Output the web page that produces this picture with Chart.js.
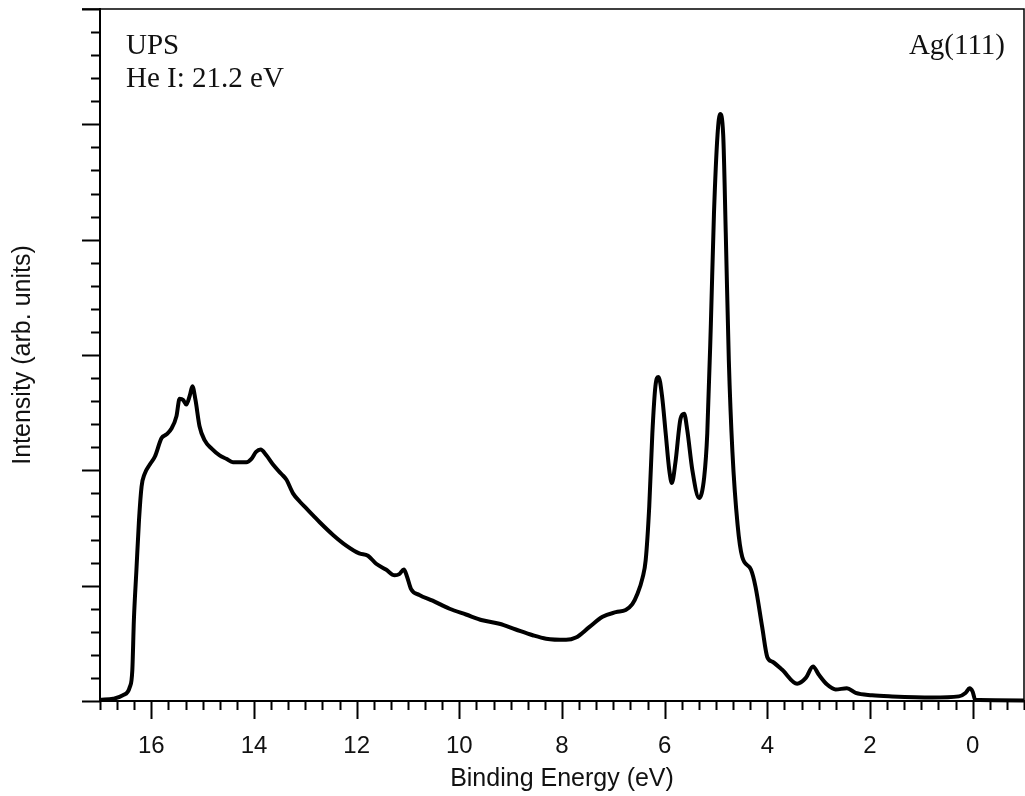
<!DOCTYPE html>
<html>
<head>
<meta charset="utf-8">
<script src="https://cdn.jsdelivr.net/npm/chart.js@4.4.1/dist/chart.umd.min.js"></script>
<style>
  html, body { margin: 0; padding: 0; background: #fff; }
  #wrap { width: 1025px; height: 796px; position: relative; }
</style>
</head>
<body>
<div id="wrap"><canvas id="upsChart"></canvas></div>
<script>
// ===== Spectrum data =====
const bindingEnergy = [
  17.0, 16.74, 16.55, 16.42, 16.37, 16.34, 16.29, 16.24, 16.19, 16.13, 16.03, 15.93, 15.80, 15.71, 15.61,
  15.51, 15.45, 15.38, 15.32, 15.25, 15.20, 15.14, 15.06, 14.96, 14.83, 14.67, 14.54, 14.41, 14.15, 14.05,
  13.96, 13.87, 13.76, 13.63, 13.47, 13.37, 13.24, 13.11, 12.98, 12.85, 12.72, 12.46, 12.21, 11.95, 11.78,
  11.62, 11.43, 11.26, 11.17, 11.08, 11.02, 10.94, 10.78, 10.52, 10.19, 9.87, 9.55, 9.22, 8.90, 8.57,
  8.31, 7.92, 7.73, 7.47, 7.21, 6.95, 6.76, 6.63, 6.53, 6.43, 6.37, 6.30, 6.24, 6.18, 6.12,
  6.05, 5.98, 5.91, 5.86, 5.79, 5.69, 5.62, 5.56, 5.46, 5.33, 5.23, 5.17, 5.10, 5.04, 4.97,
  4.92, 4.86, 4.81, 4.75, 4.68, 4.58, 4.49, 4.32, 4.23, 4.10, 4.00, 3.90, 3.71, 3.42, 3.25,
  3.11, 3.00, 2.83, 2.67, 2.45, 2.28, 1.96, 1.57, 0.79, 0.27, 0.14, 0.06, 0.00, -0.05, -1.0
];
const intensity = [
  0.01, 0.02, 0.05, 0.12, 0.27, 0.70, 1.14, 1.57, 1.86, 1.97, 2.05, 2.12, 2.28, 2.31, 2.36,
  2.47, 2.62, 2.61, 2.57, 2.65, 2.73, 2.61, 2.38, 2.26, 2.19, 2.13, 2.10, 2.07, 2.07, 2.10,
  2.16, 2.18, 2.13, 2.05, 1.97, 1.92, 1.80, 1.73, 1.67, 1.61, 1.55, 1.44, 1.35, 1.28, 1.26,
  1.19, 1.14, 1.09, 1.10, 1.14, 1.08, 0.97, 0.92, 0.87, 0.80, 0.75, 0.70, 0.67, 0.62, 0.57,
  0.54, 0.53, 0.55, 0.64, 0.73, 0.77, 0.79, 0.84, 0.93, 1.07, 1.22, 1.69, 2.32, 2.73, 2.81,
  2.64, 2.32, 2.00, 1.89, 2.07, 2.45, 2.49, 2.35, 2.00, 1.76, 1.94, 2.32, 3.27, 4.22, 4.91,
  5.09, 4.91, 4.06, 2.95, 2.16, 1.53, 1.25, 1.14, 0.99, 0.64, 0.38, 0.34, 0.27, 0.15, 0.20,
  0.30, 0.23, 0.14, 0.10, 0.11, 0.07, 0.05, 0.04, 0.03, 0.04, 0.07, 0.11, 0.08, 0.01, 0.005
];

// ===== Axes =====
const xRange = [-1, 17];
const xTickLabels = [16, 14, 12, 10, 8, 6, 4, 2, 0];
const xMinorStep = 1 / 3;
const yRange = [0, 6];
const yMajorTicks = [0, 1, 2, 3, 4, 5, 6];
const yMinorStep = 0.2;

const sansFont = "'Liberation Sans', Arial, sans-serif";
const serifFont = "'Liberation Serif', 'Times New Roman', serif";

// ===== Frame, tick marks, tick labels and text annotations =====
const frameAndTicks = {
  id: 'frameAndTicks',
  afterDraw(chart) {
    const { ctx, chartArea: a, scales: { x, y } } = chart;
    ctx.save();
    ctx.strokeStyle = '#000';

    // top + right border
    ctx.lineWidth = 1.5;
    ctx.beginPath();
    ctx.moveTo(a.left - 18, a.top);
    ctx.lineTo(a.right, a.top);
    ctx.lineTo(a.right, a.bottom);
    ctx.stroke();

    // x ticks (below axis)
    ctx.lineWidth = 2;
    ctx.beginPath();
    for (let v = xRange[0]; v <= xRange[1] + 1e-6; v += xMinorStep) {
      const major = Math.abs(v - Math.round(v)) < 1e-6 && Math.round(v) % 2 === 0;
      const px = Math.round(x.getPixelForValue(v)) + 0.5;
      ctx.moveTo(px, a.bottom);
      ctx.lineTo(px, a.bottom + (major ? 18 : 9));
    }
    // y ticks (left of axis)
    for (let v = yRange[0]; v <= yRange[1] + 1e-6; v += yMinorStep) {
      const major = yMajorTicks.some(m => Math.abs(m - v) < 1e-6);
      const py = Math.round(y.getPixelForValue(v)) + 0.5;
      ctx.moveTo(a.left, py);
      ctx.lineTo(a.left - (major ? 18 : 9), py);
    }
    ctx.stroke();

    // x tick labels
    ctx.fillStyle = '#111';
    ctx.font = '24px ' + sansFont;
    ctx.textAlign = 'center';
    ctx.textBaseline = 'middle';
    xTickLabels.forEach(v => {
      ctx.fillText(String(v), x.getPixelForValue(v), a.bottom + 45);
    });

    // annotations
    ctx.font = '29px ' + serifFont;
    ctx.textBaseline = 'alphabetic';
    ctx.textAlign = 'left';
    ctx.fillText('UPS', a.left + 26, 54);
    ctx.fillText('He I: 21.2 eV', a.left + 26, 87);
    ctx.textAlign = 'right';
    ctx.fillText('Ag(111)', a.right - 19, 54);
    ctx.restore();
  }
};

function initUpsChart() {
  const ctx = document.getElementById('upsChart').getContext('2d');
  new Chart(ctx, {
    type: 'scatter',
    data: {
      datasets: [{
        data: bindingEnergy.map((e, i) => ({ x: e, y: intensity[i] })),
        showLine: true,
        borderColor: '#000',
        borderWidth: 4,
        pointRadius: 0,
        cubicInterpolationMode: 'monotone',
        clip: false,
      }]
    },
    options: {
      responsive: true,
      maintainAspectRatio: false,
      animation: false,
      layout: { padding: { top: 9, right: 1, left: 0, bottom: 0 } },
      plugins: { legend: { display: false }, tooltip: { enabled: false } },
      scales: {
        x: {
          type: 'linear',
          reverse: true,
          min: xRange[0],
          max: xRange[1],
          afterBuildTicks: s => { s.ticks = xTickLabels.map(v => ({ value: v })); },
          afterFit: s => { s.height = 95; s.paddingLeft = 0; s.paddingRight = 0; },
          grid: { display: false },
          border: { display: true, color: '#000', width: 2 },
          ticks: { display: false },
          title: {
            display: true,
            text: 'Binding Energy (eV)',
            color: '#111',
            font: { family: sansFont, size: 25 },
            padding: { bottom: 2 },
          }
        },
        y: {
          min: yRange[0],
          max: yRange[1],
          afterFit: s => { s.width = 100; },
          grid: { display: false },
          border: { display: true, color: '#000', width: 2 },
          ticks: { display: false },
          title: {
            display: true,
            text: 'Intensity (arb. units)',
            color: '#111',
            font: { family: sansFont, size: 25 },
            padding: { top: 8 },
          }
        }
      }
    },
    plugins: [frameAndTicks]
  });
}

initUpsChart();
</script>
</body>
</html>
